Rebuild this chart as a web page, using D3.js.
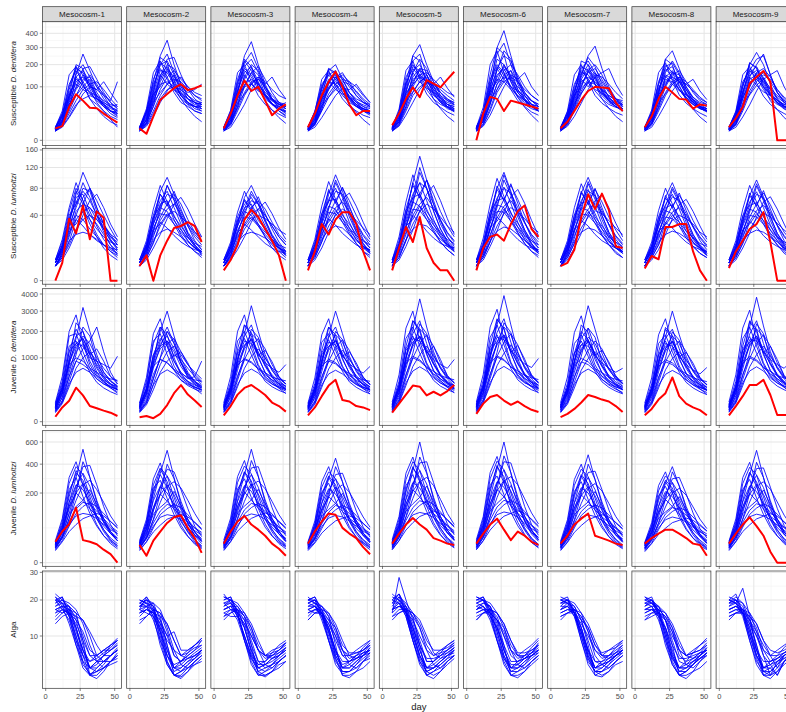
<!DOCTYPE html>
<html>
<head>
<meta charset="utf-8">
<script src="https://cdn.jsdelivr.net/npm/d3@7"></script>
<style>
  body { margin: 0; background: #fff; }
  svg { display: block; }
  text { font-family: "Liberation Sans", Arial, sans-serif; }
</style>
</head>
<body>
<svg id="chart" width="786" height="712"></svg>
<script>
// sampling days, facets, ticks
const days = [7, 12, 17, 22, 27, 32, 37, 42, 47, 52];
const mesocosms = ["Mesocosm-1", "Mesocosm-2", "Mesocosm-3", "Mesocosm-4", "Mesocosm-5",
                   "Mesocosm-6", "Mesocosm-7", "Mesocosm-8", "Mesocosm-9"];
const xTicks = [0, 25, 50];
const susDentTicks = [0, 100, 200, 300, 400];
const susLumTicks = [0, 40, 80, 120, 160];
const juvDentTicks = [0, 1000, 2000, 3000, 4000];
const juvLumTicks = [0, 200, 400, 600];
const algaTicks = [10, 20, 30];

// observed (red) series, one per mesocosm
const susDentRed = [
  [5, 7, 39, 74, 55, 37, 36, 25, 17, 11],
  [5, 1.5, 20, 57, 75, 95, 110, 88, 95, 105],
  [5, 25, 70, 125, 85, 100, 55, 22, 35, 45],
  [6, 25, 70, 120, 165, 100, 45, 22, 30, 30],
  [8, 25, 60, 98, 65, 127, 112, 98, 130, 164],
  [0, 25, 66, 60, 30, 55, 50, 45, 40, 35],
  [5, 12, 30, 57, 85, 100, 97, 95, 50, 30],
  [6, 20, 60, 100, 80, 60, 58, 35, 45, 42],
  [6, 17, 39, 113, 140, 168, 120, 0, 0, 0]
];
const susLumRed = [
  [0, 3, 36, 21, 53, 16, 45, 37, 0, 0],
  [2, 6, 0, 6, 15, 26, 28, 32, 28, 14],
  [1, 4, 12, 35, 47, 38, 25, 15, 6, 0],
  [1, 8, 30, 20, 35, 44, 44, 30, 8, 1],
  [1, 10, 27, 14, 38, 10, 3, 1, 1, 0],
  [1, 10, 18, 20, 15, 30, 45, 53, 25, 18],
  [2, 3, 9, 38, 70, 48, 71, 47, 11, 10],
  [1.4, 5.7, 4.3, 27, 27, 30, 30, 8, 1, 0],
  [1.5, 8, 15, 25, 30, 44, 14, 0, 0, 0]
];
const juvDentRed = [
  [6, 50, 108, 284, 170, 60, 44, 30, 20, 8],
  [5, 8, 3, 15, 68, 200, 330, 180, 110, 53],
  [10, 60, 180, 280, 330, 250, 175, 90, 60, 25],
  [10, 50, 160, 320, 430, 115, 100, 60, 50, 33],
  [20, 80, 180, 320, 300, 170, 220, 170, 230, 330],
  [15, 80, 150, 175, 110, 70, 100, 60, 35, 23],
  [5, 15, 40, 90, 175, 150, 120, 100, 60, 23],
  [10, 40, 120, 200, 480, 160, 80, 50, 33, 10],
  [10, 60, 160, 330, 330, 430, 175, 11, 11, 11]
];
const juvLumRed = [
  [18, 40, 61, 125, 21, 18, 14, 7, 3, 0],
  [13, 2, 20, 40, 65, 85, 93, 50, 25, 4],
  [15, 40, 70, 90, 60, 45, 30, 15, 8, 2],
  [15, 40, 70, 100, 95, 50, 35, 25, 10, 3],
  [15, 35, 60, 82, 60, 45, 25, 20, 15, 13],
  [15, 35, 60, 80, 45, 21, 40, 30, 18, 13],
  [15, 30, 60, 80, 100, 30, 25, 20, 15, 13],
  [15, 25, 35, 45, 45, 35, 25, 15, 13, 2],
  [15, 35, 60, 85, 55, 30, 5, 0, 0, 0]
];

// simulated (blue) series, values at each day, one string per run
const susDentBlue = [
  ["4 15 60 150 260 170 100 60 40 30", "5 20 90 180 160 110 70 45 30 25", "3 10 40 100 180 190 130 80 50 35",
   "6 25 110 170 120 80 55 40 30 28", "4 12 50 120 140 100 90 70 55 120", "3 9 30 70 120 150 110 70 40 25",
   "5 18 70 130 110 60 35 20 12 8", "4 14 55 160 200 140 80 50 38 32", "6 22 80 110 90 75 60 50 40 45",
   "3 8 25 55 90 110 120 90 60 40", "5 16 65 140 170 120 65 40 30 20", "4 11 45 90 130 140 100 75 50 35",
   "3 7 20 45 60 70 60 45 30 22", "5 20 100 190 150 100 60 45 35 30",
   "6 30 150 190 110 60 45 30 20 15", "3 6 18 40 75 100 90 120 80 50", "4 13 70 200 180 90 50 30 15 6",
   "5 25 70 95 150 110 60 40 25 18", "3 12 35 140 100 130 70 45 30 25", "4 9 45 70 100 80 70 55 45 40"],
  ["5 30 120 250 350 200 110 70 50 40", "6 25 100 200 220 150 90 60 45 50", "4 15 60 140 230 240 150 90 60 45",
   "5 20 80 170 160 110 70 50 40 35", "3 10 40 90 140 170 130 100 80 70", "6 28 110 180 130 90 60 45 40 45",
   "4 12 50 120 180 140 100 80 90 110", "5 22 90 200 260 160 100 60 40 30", "3 9 30 70 110 130 120 90 70 60",
   "5 18 70 150 190 130 70 45 30 25", "4 14 55 110 120 100 80 60 50 45", "6 30 130 210 180 110 70 50 40 40",
   "3 8 25 60 90 100 90 70 55 50", "4 16 65 130 200 180 110 70 50 35",
   "6 35 160 220 140 80 50 40 30 25", "3 7 20 50 85 120 140 100 70 55", "5 14 80 240 210 100 60 35 20 12",
   "4 26 75 100 170 120 70 50 40 35", "3 11 40 150 110 150 80 50 35 30", "5 10 50 80 110 90 75 60 50 45"],
  ["5 25 110 250 340 200 110 60 40 30", "4 18 80 190 230 160 90 55 40 35", "6 30 130 220 170 110 70 45 35 30",
   "3 10 40 100 160 190 130 80 50 40", "5 20 90 170 140 90 60 45 40 50", "4 14 60 130 180 150 90 60 45 40",
   "3 8 30 70 110 140 120 90 70 60", "5 22 100 210 270 180 100 60 35 25", "4 12 50 110 130 110 80 60 50 45",
   "6 26 120 180 150 100 65 45 30 20", "3 9 35 80 120 130 100 70 50 35", "5 17 70 140 200 170 100 60 45 35",
   "4 15 60 100 110 90 70 55 45 40", "5 20 85 160 190 120 70 45 35 28",
   "6 32 160 200 120 70 45 32 24 18", "3 6 20 45 90 130 110 140 90 60", "4 14 75 230 190 100 55 32 18 10",
   "5 24 72 105 160 115 70 48 30 22", "3 12 38 150 110 140 75 48 34 28", "4 10 48 75 110 85 72 58 46 40"],
  ["5 22 90 170 200 130 80 50 35 25", "4 15 60 120 150 140 100 70 50 40", "6 28 100 160 130 90 60 45 35 30",
   "3 10 40 90 130 150 120 80 55 40", "5 20 80 150 170 110 60 40 30 25", "4 12 50 100 120 100 80 60 50 45",
   "6 25 95 180 160 100 65 45 35 30", "3 8 30 65 100 120 110 85 60 45", "5 18 70 130 140 100 70 50 40 35",
   "4 14 55 110 160 130 80 55 40 30", "6 30 110 150 110 70 50 40 35 30", "3 9 35 75 110 130 120 100 70 50",
   "5 16 65 120 110 80 55 40 30 25", "4 11 45 95 140 160 110 70 50 40",
   "6 28 130 170 100 60 40 30 22 18", "3 6 18 40 70 95 90 110 75 50", "4 12 65 180 150 80 45 28 15 8",
   "5 22 60 90 140 100 60 42 30 22", "3 10 32 120 90 115 65 45 32 26", "4 9 42 65 90 75 65 52 44 38"],
  ["6 28 120 250 320 200 120 70 45 35", "5 22 100 220 260 150 90 60 45 40", "4 15 60 140 180 170 120 80 55 45",
   "6 30 140 200 150 100 70 55 45 40", "5 18 80 170 200 130 80 50 35 30", "3 10 40 100 150 160 130 100 80 70",
   "5 25 110 190 170 110 75 50 40 35", "4 12 50 110 140 120 90 70 55 50", "6 20 90 160 230 180 100 60 40 30",
   "3 9 35 80 120 140 110 80 60 45", "5 17 70 130 150 120 100 80 60 50", "4 14 55 120 170 150 100 65 45 35",
   "6 26 115 180 140 90 60 45 38 32", "3 8 30 70 100 115 105 90 70 55",
   "6 34 170 220 130 75 50 38 28 22", "3 7 22 50 90 120 110 140 95 65", "4 15 80 250 220 110 60 35 20 12",
   "5 26 78 110 180 130 75 52 38 28", "3 12 40 160 115 150 85 55 40 32", "5 11 52 82 120 95 80 64 50 44"],
  ["5 30 150 300 420 250 130 70 45 35", "6 25 120 260 330 200 110 60 40 30", "4 18 80 180 250 220 140 80 55 40",
   "5 22 100 230 200 130 80 55 40 35", "3 10 45 110 170 200 150 100 70 55", "6 28 130 200 160 100 70 50 40 35",
   "4 14 60 140 190 150 90 60 45 40", "5 20 90 170 280 230 120 70 45 30", "3 8 30 80 120 140 120 90 70 55",
   "5 16 70 150 180 120 80 55 40 30", "4 12 50 110 140 130 100 75 55 45", "6 24 110 190 150 100 65 45 35 30",
   "3 9 35 90 150 170 120 80 55 40", "5 18 75 130 120 90 70 55 45 40",
   "6 38 200 280 160 90 55 40 28 22", "3 7 22 55 100 150 130 160 100 70", "4 16 90 300 260 120 65 38 22 12",
   "5 28 85 120 200 140 80 55 40 30", "3 13 45 180 130 170 90 58 40 32", "5 12 55 90 130 100 85 68 54 46"],
  ["4 15 60 150 250 310 180 100 60 40", "5 20 80 180 220 160 100 65 45 35", "3 10 40 100 170 200 150 90 60 45",
   "5 22 90 160 150 110 75 55 45 40", "4 12 50 110 160 180 130 85 60 50", "6 25 100 190 170 110 70 50 40 35",
   "3 8 30 75 120 150 140 110 80 60", "5 18 70 140 200 150 90 60 45 35", "4 14 55 120 140 120 90 70 55 45",
   "6 28 110 170 130 85 60 45 38 35", "3 9 35 85 130 160 120 80 55 40", "5 16 65 130 180 140 85 55 40 30",
   "4 11 45 95 120 110 90 70 60 55", "5 20 85 150 240 190 110 65 45 35",
   "5 30 150 200 120 70 48 36 27 22", "3 7 20 48 90 140 160 180 110 70", "4 14 70 220 200 110 60 36 20 12",
   "5 24 70 100 170 130 80 55 40 30", "3 11 36 130 100 140 85 55 40 32", "4 10 48 78 115 90 78 62 50 44"],
  ["5 25 110 230 280 180 100 60 40 30", "4 18 80 190 210 150 90 55 40 35", "6 28 120 200 160 100 65 45 35 30",
   "3 10 40 100 150 170 120 80 55 45", "5 20 90 170 190 120 75 50 40 35", "4 14 60 120 140 120 90 65 50 45",
   "5 22 95 150 130 90 60 45 35 30", "3 8 30 70 110 130 110 85 60 50", "5 17 70 140 170 130 80 55 40 30",
   "4 12 50 110 160 150 100 65 45 35", "6 26 110 180 140 90 60 45 38 32", "3 9 35 80 120 140 120 90 65 50",
   "4 15 60 130 120 90 65 50 40 35", "5 19 80 160 220 160 90 55 40 30",
   "6 32 160 210 125 72 48 35 26 20", "3 6 20 46 85 120 110 130 85 58", "4 14 74 230 200 105 58 34 19 11",
   "5 24 72 104 165 120 72 50 36 28", "3 11 38 145 108 140 78 50 36 30", "4 10 48 76 110 86 72 58 46 40"],
  ["5 22 100 200 270 200 110 60 40 30", "4 18 80 170 230 250 150 80 50 35", "6 26 110 180 150 100 70 50 40 35",
   "3 10 40 100 160 180 140 90 60 45", "5 20 85 160 190 130 80 55 40 35", "4 14 60 130 150 130 95 70 55 45",
   "5 24 100 210 180 110 70 50 40 35", "3 8 30 75 120 150 130 90 65 50", "5 17 70 140 200 260 150 80 50 35",
   "4 12 50 110 140 120 90 65 50 45", "6 28 120 170 140 90 60 45 38 32", "3 9 35 85 130 160 120 80 55 40",
   "4 15 60 120 130 100 75 55 45 40", "5 19 80 150 170 140 90 60 42 32",
   "6 30 150 190 115 68 45 33 25 19", "3 6 19 44 85 130 150 170 100 60", "4 13 70 210 185 100 55 33 18 10",
   "5 23 68 100 160 120 72 50 36 28", "3 11 36 140 105 135 75 48 34 28", "4 9 46 72 105 82 70 56 45 39"]
];
const susLumBlue = [
  ["3 10 30 70 110 80 50 30 18 12", "2 8 25 55 75 60 40 25 15 10", "4 14 45 80 60 35 20 12 8 5",
   "2 6 18 40 65 80 60 40 25 15", "3 12 35 60 50 30 18 10 6 4", "2 7 20 45 55 50 35 25 18 14",
   "3 9 28 50 80 75 45 25 15 9", "4 11 30 40 35 25 18 12 8 6", "2 5 12 25 35 40 35 28 20 16",
   "3 10 32 65 70 45 28 16 10 7", "2 6 15 20 22 20 16 12 9 7", "3 8 22 35 45 50 40 30 20 12",
   "4 16 50 90 60 40 30 20 12 8", "2 4 10 22 40 60 70 50 30 18", "3 9 35 75 55 80 50 30 16 10",
   "2 7 25 30 45 35 25 18 14 12", "3 12 40 55 90 65 40 22 12 6", "2 5 14 35 28 20 15 12 10 9"],
  ["3 10 35 75 100 70 40 22 14 9", "2 7 22 50 70 65 45 30 20 14", "4 13 40 70 55 35 20 12 8 5",
   "2 6 18 38 55 70 55 35 22 15", "3 11 30 55 60 40 25 15 10 7", "2 8 24 45 85 60 35 20 12 8",
   "3 9 26 42 40 30 22 15 10 8", "2 5 14 28 40 45 38 30 22 18", "4 12 36 60 75 50 30 18 11 7",
   "2 6 16 22 25 22 18 14 10 8", "3 8 20 34 48 55 42 28 18 12", "3 10 30 50 45 30 18 12 8 6",
   "4 15 48 85 58 38 28 18 11 7", "2 4 10 20 36 55 65 48 30 18", "3 9 32 70 52 75 48 28 15 9",
   "2 7 24 30 42 34 24 17 13 11", "3 12 38 52 85 62 38 21 12 6", "2 5 13 32 26 19 14 11 9 8"],
  ["3 10 30 65 85 60 35 20 12 8", "2 7 20 45 60 55 40 28 18 12", "4 12 38 60 45 30 18 10 6 4",
   "2 6 16 35 50 60 48 32 20 14", "3 11 28 50 55 38 24 15 9 6", "2 8 22 40 70 55 32 18 11 7",
   "3 9 24 38 36 28 20 14 10 8", "2 5 12 25 35 40 36 30 24 20", "4 12 34 55 65 45 28 16 10 7",
   "2 6 14 20 22 20 17 13 10 8", "3 8 18 30 42 48 40 28 18 12", "3 10 28 45 40 28 18 12 8 5",
   "4 14 44 75 52 34 25 16 10 6", "2 4 9 18 32 48 58 42 26 16", "3 8 30 62 48 66 42 25 14 8",
   "2 6 22 28 38 30 22 16 12 10", "3 11 34 48 75 55 34 19 11 6", "2 5 12 30 24 18 13 10 8 7"],
  ["3 10 32 70 105 75 45 25 15 10", "2 7 22 50 75 70 50 32 20 14", "4 14 42 75 58 36 22 13 8 5",
   "2 6 18 40 60 80 60 40 25 16", "3 12 32 60 62 42 26 16 10 7", "2 8 24 48 90 65 38 22 13 8",
   "3 9 26 44 42 32 24 16 11 8", "2 5 14 28 40 48 42 34 26 20", "4 12 38 62 80 55 32 18 11 7",
   "2 6 16 24 28 26 20 15 11 9", "3 8 20 36 50 58 45 30 19 12", "3 10 30 52 48 32 20 13 8 6",
   "4 16 52 92 62 40 30 20 12 8", "2 4 10 22 42 62 72 52 32 18", "3 9 36 78 56 82 52 30 16 10",
   "2 7 26 32 46 36 26 19 15 12", "3 12 42 58 95 68 42 23 13 7", "2 5 14 36 29 21 16 12 10 9"],
  ["3 12 40 90 145 95 55 30 18 12", "2 8 26 60 90 80 55 35 22 15", "4 15 48 85 65 40 24 14 9 6",
   "2 7 20 45 70 95 70 45 28 18", "3 12 35 65 70 48 30 18 11 8", "2 9 28 55 110 80 45 25 15 10",
   "3 10 28 48 46 35 26 18 12 9", "2 5 15 30 45 55 48 38 28 22", "4 13 40 70 90 60 35 20 12 8",
   "2 6 16 25 30 28 22 16 12 10", "3 9 22 40 55 65 50 34 21 14", "3 11 32 58 52 35 22 14 9 6",
   "4 18 58 105 70 45 33 22 13 9", "2 4 11 24 46 70 85 60 36 20", "3 10 40 90 64 95 60 34 18 11",
   "2 8 28 35 52 40 29 21 16 13", "3 13 46 64 120 80 46 25 14 8", "2 5 15 40 32 23 17 13 11 10"],
  ["3 11 36 80 110 75 42 24 15 10", "2 8 24 55 80 72 50 32 20 14", "4 14 44 78 60 38 22 13 8 5",
   "2 6 18 42 62 85 62 40 25 16", "3 12 33 60 64 44 27 16 10 7", "2 8 25 50 95 68 38 22 13 8",
   "3 9 26 45 44 33 24 16 11 8", "2 5 14 28 42 50 44 36 27 22", "4 12 38 64 82 56 32 18 11 7",
   "2 6 15 23 27 25 20 15 11 9", "3 8 20 37 52 60 46 31 19 12", "3 10 31 54 50 33 21 13 8 6",
   "4 17 55 98 66 42 31 21 12 8", "2 4 11 23 44 66 78 56 34 19", "3 9 38 84 60 88 56 32 17 10",
   "2 7 27 33 48 37 27 19 15 12", "3 12 44 60 105 72 44 24 13 7", "2 5 14 38 30 22 16 12 10 9"],
  ["3 10 32 72 100 70 40 22 14 9", "2 7 22 52 75 68 46 30 19 13", "4 13 40 72 56 35 20 12 7 5",
   "2 6 17 40 58 78 58 38 24 15", "3 11 31 56 60 42 25 15 10 7", "2 8 23 46 88 62 35 20 12 8",
   "3 9 25 42 40 31 22 15 10 8", "2 5 13 26 38 46 42 34 26 20", "4 12 36 60 78 52 30 17 10 7",
   "2 6 15 22 26 24 19 14 10 8", "3 8 19 34 48 56 44 30 18 12", "3 10 29 50 46 31 19 12 8 5",
   "4 15 50 88 60 38 28 19 12 8", "2 4 10 21 40 60 70 50 31 18", "3 9 34 75 54 80 50 29 16 10",
   "2 7 25 31 44 35 25 18 14 11", "3 12 40 56 92 66 40 22 12 7", "2 5 13 34 28 20 15 12 10 8"],
  ["3 10 30 65 90 62 36 20 12 8", "2 7 20 46 66 60 42 28 18 12", "4 12 38 64 50 32 19 11 7 5",
   "2 6 16 36 52 68 52 34 21 14", "3 10 28 50 54 38 23 14 9 6", "2 7 21 42 78 56 32 18 11 7",
   "3 8 23 38 36 28 20 14 10 7", "2 5 12 24 34 40 36 30 22 18", "4 11 33 54 70 48 28 16 10 6",
   "2 6 14 20 23 21 17 13 10 8", "3 8 18 31 44 50 40 27 17 11", "3 9 27 46 42 28 17 11 7 5",
   "4 14 46 80 55 36 26 17 11 7", "2 4 9 20 36 54 62 45 28 16", "3 8 32 68 50 72 46 27 15 9",
   "2 6 23 29 40 32 23 17 13 11", "3 11 37 52 82 60 37 20 11 6", "2 5 12 32 26 19 14 11 9 8"],
  ["3 10 31 68 95 66 38 21 13 9", "2 7 21 48 70 64 44 29 19 13", "4 13 39 68 52 33 20 12 7 5",
   "2 6 17 38 55 72 54 35 22 15", "3 11 30 53 57 40 24 15 9 6", "2 8 22 44 84 60 34 19 12 8",
   "3 9 24 40 38 30 21 15 10 8", "2 5 13 25 36 43 38 31 24 19", "4 12 35 58 74 50 29 17 10 7",
   "2 6 15 21 24 22 18 14 10 8", "3 8 19 33 46 53 42 29 18 12", "3 10 28 48 44 30 18 12 8 5",
   "4 15 48 85 58 38 28 18 11 7", "2 4 10 21 38 58 66 48 30 17", "3 9 33 72 52 76 48 28 15 9",
   "2 7 24 30 42 34 24 18 14 11", "3 11 39 54 88 63 39 21 12 6", "2 5 13 33 27 19 14 11 9 8"]
];
const juvDentBlue = [
  ["40 200 800 1700 3200 2000 1100 600 400 300", "60 300 1200 2100 1600 900 550 400 300 250", "30 150 600 1300 1800 1500 1000 700 500 400",
   "80 400 1800 1900 1200 700 450 350 280 220", "50 250 900 1500 1400 1000 900 800 700 1050", "25 100 400 900 1300 1600 2200 1200 600 350",
   "70 350 1400 1600 1000 600 380 280 220 180", "40 180 700 1200 1500 1100 700 450 330 250", "20 80 300 700 1000 1200 900 600 420 300",
   "60 260 1000 1800 2000 1300 750 480 350 280", "35 140 500 900 800 650 520 420 350 300", "50 220 850 1400 1700 1200 800 550 400 320",
   "90 500 2000 2800 1500 800 500 380 300 250", "30 110 500 1100 2200 1800 900 500 350 260", "55 300 1200 1500 1700 1100 1300 900 500 350",
   "25 90 350 600 700 600 450 350 300 260", "45 200 900 2400 2000 1100 600 400 280 200", "70 260 800 1000 900 700 600 500 450 420"],
  ["50 250 1000 2000 3000 1800 1000 600 400 300", "40 180 700 1400 2000 1500 900 550 380 280", "70 350 1500 2200 1500 900 550 400 300 250",
   "30 120 450 1000 1500 1700 1200 800 550 400", "60 280 1100 1700 1400 900 600 450 500 900", "25 90 350 800 1200 1400 1100 800 600 450",
   "80 400 1600 1900 1100 650 420 320 260 220", "45 200 800 1300 1600 1200 750 500 350 280", "20 70 250 600 900 1100 950 700 500 380",
   "55 250 950 1600 2200 1500 850 520 380 300", "35 150 550 950 850 650 500 400 330 280", "50 220 850 1500 1800 1300 850 560 400 320",
   "85 480 1900 2600 1400 760 480 360 290 240", "28 100 460 1000 2000 1650 850 480 340 250", "52 280 1100 1400 1600 1050 1200 850 480 340",
   "24 85 330 560 660 560 430 340 290 250", "42 190 850 2200 1850 1000 560 380 270 190", "66 250 760 950 860 670 570 480 430 400"],
  ["45 230 900 1900 3300 2000 1100 650 420 300", "60 320 1300 2300 1800 1000 600 420 320 270", "35 160 650 1400 1900 1600 1000 650 450 350",
   "75 380 1600 2000 1300 750 470 350 280 230", "50 240 950 1600 1500 1100 850 700 600 800", "25 100 420 950 1400 1700 1300 800 500 350",
   "65 300 1200 1700 1100 650 400 300 240 200", "40 190 750 1300 1700 1200 750 480 340 260", "20 80 300 700 1050 1300 1000 700 480 350",
   "55 260 1000 1800 2300 1400 800 500 360 280", "35 140 520 950 850 680 540 430 360 310", "50 210 820 1400 1650 1150 780 540 390 310",
   "88 500 2000 2800 1500 800 500 380 300 250", "30 110 480 1050 2100 1750 880 490 345 255", "54 290 1150 1450 1650 1080 1250 880 490 345",
   "24 88 340 580 680 580 440 345 295 255", "44 195 880 2300 1950 1050 580 390 275 195", "68 255 780 980 880 690 590 490 440 410"],
  ["45 220 850 1800 3000 1900 1050 620 400 290", "60 300 1250 2200 1700 950 580 400 300 250", "35 150 620 1350 1850 1550 980 640 440 340",
   "75 360 1550 1900 1250 720 450 340 270 220", "50 230 900 1550 1450 1050 820 680 580 750", "25 95 400 900 1350 1650 1250 780 490 340",
   "65 290 1150 1650 1050 620 390 290 230 190", "40 180 720 1250 1650 1150 720 460 330 250", "20 75 290 680 1000 1250 950 680 470 340",
   "55 250 960 1750 2200 1350 780 490 350 270", "35 135 500 900 820 650 520 420 350 300", "50 200 800 1350 1600 1100 760 520 380 300",
   "84 470 1850 2600 1400 760 480 360 290 240", "28 105 460 1000 2000 1650 850 480 340 250", "52 280 1100 1400 1600 1050 1200 850 480 340",
   "23 84 330 560 650 560 430 340 290 250", "42 185 840 2200 1850 1000 560 380 270 190", "65 245 760 950 860 670 570 480 430 400"],
  ["50 260 1000 2100 3700 2200 1200 700 450 320", "65 340 1400 2500 2000 1100 650 450 340 280", "38 170 700 1500 2100 1800 1100 700 480 370",
   "80 400 1700 2200 1400 800 500 370 290 240", "55 260 1000 1700 1600 1200 950 800 700 950", "28 110 450 1000 1500 1850 1400 850 520 370",
   "70 320 1300 1800 1150 680 420 310 250 210", "42 200 800 1400 1800 1300 800 510 360 270", "22 85 320 750 1100 1400 1050 740 500 370",
   "58 270 1050 1900 2500 1500 850 530 380 290", "36 145 550 1000 900 720 560 450 370 320", "52 220 870 1480 1750 1220 820 560 400 320",
   "95 540 2150 3000 1600 850 530 400 310 260", "32 120 520 1150 2350 1900 950 530 370 270", "58 310 1250 1550 1800 1150 1400 950 520 360",
   "26 95 370 630 740 630 470 365 310 270", "48 210 950 2500 2100 1150 630 420 290 205", "72 270 830 1050 940 730 620 520 470 430"],
  ["50 270 1100 2300 3900 2300 1200 700 450 320", "65 350 1450 2600 2100 1150 680 460 340 280", "38 175 720 1550 2200 1850 1150 720 490 380",
   "80 420 1750 2300 1450 820 510 380 300 240", "55 270 1050 1750 1650 1250 980 820 720 980", "28 110 460 1050 1550 1900 1450 880 540 380",
   "70 330 1350 1850 1200 700 430 320 250 210", "42 200 820 1450 1850 1350 820 520 370 280", "22 88 330 770 1150 1450 1080 760 510 380",
   "58 280 1080 1950 2600 1550 880 540 390 300", "36 150 560 1020 920 740 580 460 380 330", "52 225 880 1500 1780 1250 830 570 410 330",
   "95 550 2200 3100 1650 870 540 400 310 260", "32 120 530 1180 2400 1950 970 540 370 270", "58 315 1270 1580 1850 1180 1420 960 520 360",
   "26 96 375 640 750 640 480 370 315 275", "48 210 960 2550 2150 1170 640 425 295 205", "72 275 840 1060 950 740 630 525 475 435"],
  ["45 220 880 1850 3300 2100 1150 680 440 310", "55 280 1150 2000 1650 950 590 420 320 260", "32 150 600 1250 1750 1500 1000 660 460 360",
   "70 360 1500 1850 1200 700 440 330 260 210", "48 220 880 1450 1400 1050 850 700 600 700", "24 95 380 850 1250 1600 1300 820 520 360",
   "62 290 1150 1600 1050 620 390 290 230 190", "38 175 700 1200 1600 1150 740 470 330 250", "20 75 280 650 980 1200 980 700 490 360",
   "52 240 920 1700 2150 1350 790 500 360 280", "34 130 490 880 800 640 510 410 340 290", "48 200 790 1320 1580 1120 760 530 390 310",
   "88 490 1950 2750 1480 790 500 375 300 250", "30 110 480 1050 2150 1750 880 490 345 255", "54 290 1150 1450 1650 1080 1250 880 490 345",
   "24 88 340 580 680 580 440 345 295 255", "44 195 880 2300 1950 1050 580 390 275 195", "68 255 780 980 880 690 590 490 440 410"],
  ["42 210 830 1750 3000 1850 1050 620 400 290", "56 290 1200 2100 1700 950 580 400 300 250", "33 150 610 1300 1800 1500 960 630 440 340",
   "72 350 1500 1850 1200 700 440 330 260 210", "48 220 870 1500 1400 1020 800 660 560 720", "24 92 390 880 1300 1600 1200 760 480 330",
   "62 280 1100 1600 1020 600 380 280 220 180", "38 175 700 1220 1600 1120 700 450 320 240", "19 72 280 660 980 1200 920 660 460 330",
   "52 240 930 1700 2100 1300 760 480 340 260", "33 130 490 880 800 640 510 410 340 290", "48 195 780 1320 1560 1080 740 510 370 290",
   "84 470 1850 2600 1400 760 480 360 290 240", "28 104 455 990 1980 1630 840 475 335 245", "52 275 1090 1380 1580 1040 1180 840 475 335",
   "23 83 325 550 645 555 425 335 285 245", "42 185 830 2180 1830 990 555 375 265 185", "64 245 750 940 850 665 565 475 425 395"],
  ["50 260 1050 2200 3800 2250 1200 700 450 320", "62 330 1400 2450 2000 1100 650 450 340 280", "36 165 690 1500 2100 1800 1100 700 480 370",
   "78 400 1700 2200 1400 800 500 370 290 240", "52 250 980 1650 1600 1200 950 800 700 900", "27 105 440 980 1500 1850 1400 850 520 370",
   "68 310 1280 1780 1150 680 420 310 250 210", "41 195 790 1400 1800 1300 800 510 360 270", "22 85 320 740 1100 1400 1050 740 500 370",
   "56 265 1030 1880 2500 1500 850 530 380 290", "35 145 550 1000 900 720 560 450 370 320", "50 215 860 1460 1720 1200 820 560 400 320",
   "95 540 2150 3050 1600 850 530 400 310 260", "32 120 520 1150 2350 1900 950 530 370 270", "58 310 1250 1550 1800 1150 1400 950 520 360",
   "26 95 370 630 740 630 470 365 310 270", "48 210 950 2500 2100 1150 630 420 290 205", "72 270 830 1050 940 730 620 520 470 430"]
];
const juvLumBlue = [
  ["12 40 150 300 530 300 150 70 35 20", "15 50 180 350 250 140 80 45 25 15", "10 30 100 220 380 390 250 130 60 30",
   "18 60 220 300 180 100 55 30 18 10", "8 25 80 160 250 280 220 150 90 55", "14 45 150 250 220 150 90 55 35 25",
   "10 28 70 120 150 140 110 80 55 40", "16 55 200 330 280 160 80 40 20 12", "7 20 55 100 130 150 130 100 70 50",
   "12 38 120 200 260 200 120 70 40 25", "9 25 60 90 100 95 80 60 45 35", "13 42 130 240 330 240 130 65 35 20",
   "20 80 300 420 250 120 60 30 15 8", "9 28 80 200 420 300 160 80 40 20", "14 50 130 200 160 220 140 80 40 20",
   "6 18 40 60 80 90 100 90 70 50", "16 70 260 380 320 180 90 45 22 12", "11 35 100 130 160 120 90 70 50 35"],
  ["12 45 170 330 520 300 140 65 30 15", "15 55 200 320 230 130 70 40 22 12", "10 30 110 240 360 340 220 120 55 28",
   "18 65 230 280 170 95 50 28 16 9", "8 24 75 150 240 270 230 160 100 60", "14 48 160 240 200 140 85 50 32 22",
   "10 26 65 110 140 130 105 75 50 38", "16 58 210 360 270 150 75 38 18 10", "7 18 50 95 120 140 125 95 65 45",
   "12 36 115 190 250 190 115 65 38 24", "9 24 55 85 95 90 76 58 42 32", "13 40 125 230 310 230 125 62 32 18",
   "20 78 290 410 240 115 58 29 14 8", "9 27 78 195 400 290 155 78 39 19", "14 48 125 195 155 210 135 78 39 19",
   "6 18 39 58 78 88 96 86 68 48", "16 68 250 370 310 175 88 44 21 11", "11 34 98 126 155 118 88 68 49 34"],
  ["12 42 160 320 530 310 150 70 34 18", "15 52 190 340 240 135 78 44 24 14", "10 30 105 230 370 380 240 125 58 30",
   "18 62 225 290 175 98 52 29 17 10", "8 24 78 155 245 275 225 155 95 58", "14 46 155 245 210 145 88 52 34 24",
   "10 27 68 115 145 135 108 78 52 39", "16 56 205 340 275 155 78 39 19 11", "7 19 52 98 125 145 128 98 68 48",
   "12 37 118 195 255 195 118 68 39 24", "9 24 58 88 98 92 78 59 44 34", "13 41 128 235 320 235 128 64 34 19",
   "21 82 305 430 255 122 61 31 15 8", "9 28 82 205 430 305 162 81 41 20", "14 50 132 205 162 222 142 81 41 20",
   "6 18 41 61 81 92 102 92 71 51", "16 71 265 385 325 182 91 46 22 12", "11 35 102 132 162 122 92 71 51 36"],
  ["12 40 145 290 450 270 135 62 30 16", "15 50 175 300 220 125 72 40 22 13", "10 28 95 200 320 330 210 110 52 27",
   "17 58 205 260 160 90 48 27 16 9", "8 22 70 140 220 250 205 140 86 52", "14 44 145 225 195 135 82 48 31 22",
   "10 25 62 105 135 125 100 72 48 36", "16 54 190 310 250 140 70 35 17 10", "7 18 48 90 115 135 120 92 64 45",
   "12 35 110 180 235 180 110 62 36 22", "9 23 54 82 92 86 72 55 41 31", "13 39 120 215 290 215 118 60 32 18",
   "18 72 270 380 225 108 54 27 14 7", "8 25 72 180 380 270 145 72 36 18", "13 45 117 180 145 198 126 72 36 18",
   "6 16 36 54 72 81 90 81 63 45", "15 63 235 340 290 162 81 40 20 11", "10 32 90 117 145 108 81 63 45 32"],
  ["13 45 170 350 600 340 165 75 36 20", "16 56 205 380 270 150 85 48 26 15", "11 32 112 250 410 420 265 135 62 32",
   "19 66 245 320 195 108 57 31 18 10", "8 26 84 170 270 300 245 165 100 60", "15 50 165 265 230 160 96 57 37 26",
   "10 29 74 125 158 148 116 84 57 42", "17 60 220 370 300 170 85 42 21 12", "7 20 57 105 135 158 140 106 74 52",
   "13 40 127 210 275 210 127 74 42 26", "9 26 62 94 104 98 84 63 47 36", "14 44 138 255 350 255 138 69 37 21",
   "22 88 330 460 275 132 66 33 16 9", "10 31 88 220 460 330 176 88 44 22", "15 55 143 220 176 242 154 88 44 22",
   "7 20 44 66 88 99 110 99 77 55", "18 77 285 420 350 198 99 50 24 13", "12 38 110 143 176 132 99 77 55 38"],
  ["13 46 175 360 600 330 160 72 34 19", "16 58 210 390 260 145 82 46 25 14", "11 33 115 255 420 410 255 130 60 31",
   "19 68 250 310 190 105 56 30 17 10", "8 26 86 175 275 305 250 168 102 62", "15 50 168 270 235 162 98 58 38 27",
   "10 29 75 128 160 150 118 85 58 43", "17 61 225 380 305 172 86 43 21 12", "7 20 58 108 138 160 142 108 75 53",
   "13 40 128 212 280 212 128 75 43 26", "9 26 63 95 106 100 85 64 48 37", "14 45 140 260 355 258 140 70 38 21",
   "22 88 335 465 278 133 67 33 17 9", "10 31 89 222 470 335 178 89 44 22", "15 55 145 222 178 245 155 89 44 22",
   "7 20 44 67 89 100 111 100 78 56", "18 78 290 425 355 200 100 50 24 13", "12 39 111 145 178 133 100 78 56 39"],
  ["12 40 148 300 480 285 140 64 31 17", "15 50 180 310 225 128 74 42 23 13", "10 28 98 210 335 345 220 115 54 28",
   "17 60 210 270 165 92 50 28 16 9", "8 22 72 145 228 258 212 145 88 54", "14 44 148 232 200 138 84 49 32 23",
   "10 26 64 108 138 128 103 74 50 37", "16 55 195 320 258 145 72 36 18 10", "7 18 50 92 118 138 123 94 65 46",
   "12 35 112 185 240 185 112 64 37 23", "9 23 55 84 94 88 74 56 42 32", "13 39 122 220 300 220 120 61 33 18",
   "19 76 285 400 238 114 57 28 14 8", "9 27 76 190 400 285 152 76 38 19", "13 48 124 190 152 209 133 76 38 19",
   "6 17 38 57 76 86 95 86 67 48", "15 67 247 360 305 171 86 43 21 11", "10 33 95 124 152 114 86 67 48 33"],
  ["11 36 130 260 380 240 120 56 28 15", "14 46 160 270 200 115 66 37 21 12", "9 26 88 185 290 300 195 102 48 25",
   "16 54 185 240 150 85 45 25 15 8", "7 20 64 128 200 228 188 128 78 48", "13 40 132 208 180 124 76 44 29 20",
   "9 24 58 98 125 116 93 67 45 34", "15 50 175 280 230 130 65 32 16 9", "6 16 45 84 108 125 112 86 60 42",
   "11 32 100 165 215 165 100 58 34 21", "8 21 50 76 86 80 68 52 39 30", "12 36 110 195 265 195 108 55 30 17",
   "17 66 245 340 205 98 49 25 12 7", "8 23 66 165 340 245 130 66 33 16", "12 41 106 165 130 180 115 66 33 16",
   "5 15 33 49 66 74 82 74 57 41", "14 57 213 310 262 148 74 37 18 10", "9 29 82 106 130 98 74 57 41 29"],
  ["12 42 158 320 520 300 148 68 33 18", "15 52 190 335 240 135 78 43 24 14", "10 30 104 228 365 370 235 122 57 29",
   "18 62 222 285 172 96 51 29 17 10", "8 24 77 152 240 270 222 152 93 57", "14 46 153 242 208 143 87 51 33 24",
   "10 27 67 113 143 133 106 77 52 38", "16 56 203 335 270 152 76 38 19 11", "7 19 52 96 123 143 127 97 67 48",
   "12 37 117 193 252 193 117 67 38 24", "9 24 57 87 97 91 77 58 43 33", "13 41 127 233 315 233 127 63 34 19",
   "19 79 298 415 248 119 59 30 15 8", "9 28 79 198 415 298 158 79 40 20", "14 49 129 198 158 218 139 79 40 20",
   "6 18 40 59 79 89 99 89 69 50", "16 69 258 376 317 178 89 45 22 12", "11 35 99 129 158 119 89 69 50 35"]
];
const algaBlue = [
  ["22 20 17 12 7 4 5 6 7 8", "18 19 16 10 5 3 4 5 6 7", "20 17 14 9 6 5 6 7 8 9",
   "16 18 18 14 8 4 4 5 5 6", "19 21 15 8 4 3 3.5 4 5 6", "17 16 17 15 10 6 5 5 6 7",
   "21 18 13 8 5 4 5 6 7 8.5", "13 15 16 15 14 11 8 6 6 7", "18 20 18 12 6 4 3.5 4 5 5.5",
   "15 17 16 13 9 6 6 7 7 8", "20 19 15 10 6 3 3 4 4.5 5", "17 18 17 11 7 5 5.5 6.5 7.5 9",
   "21 19 18 16 9 3 2.6 3.5 5 6.5", "17 18 15 12 7 4 4.5 6 8 9.5", "19 20 19 17 13 8 5 4 5 6",
   "14 16 17 16 14 10 6 5 6 7.5", "20 21 16 9 4.5 3.2 3.5 4.5 6 7", "16 17 16 14 11 7 6 7 8 9"],
  ["18 19 17 13 7 4 3.5 4.5 5.5 7", "17 21 18 11 5 3 3.5 4 5 6", "15 17 16 15 13 9 6 7 8 9.5",
   "19 18 14 9 6 4.5 5 6 7 8", "16 18 19 14 8 4 4 5 5.5 6.5", "20 19 15 8 4.5 3 3 4 4.5 5",
   "13 15 17 16 11 6 5 5.5 6 7", "18 20 18 12 6 3.5 4 5 6 7", "17 16 15 12 9 7 6 6.5 7.5 8",
   "19 20 16 10 5 3 2.8 3.5 4.5 5.5", "16 17 16 13 10 6 5 6 7 9", "18 18 17 11 6 4 4.5 5.5 6.5 7.5",
   "20 19 18 15 8 3 2.6 3.5 5 6", "17 18 15 11 7 4 5 6.5 8 9.5", "18 20 19 17 12 7 4.5 4 5 6",
   "14 15 17 16 13 9 6 5.5 6 7", "19 21 17 9 4.5 3 3.5 4.5 5.5 7", "16 17 16 14 10 11 7 7 8 9"],
  ["21 20 17 12 7 4 4.5 5.5 6.5 7.5", "18 19 16 10 5.5 3.5 4 4.5 5.5 6.5", "17 18 18 15 11 7 5.5 6 7 8.5",
   "19 17 14 9 5.5 4 4.5 5.5 6 7", "15 17 17 14 9 5 4 4.5 5 6", "20 21 16 9 5 3 3 3.5 4.5 5",
   "16 15 15 13 10 7 6 6 6.5 7.5", "19 19 17 12 6.5 4 3.5 4 5 6", "14 16 17 15 12 8 6 6.5 7 8",
   "18 20 15 10 6 3.5 3 3.5 4 5", "17 18 16 13 8 5 5 6 7 8.5", "22 19 15 10 6 4.5 4.5 5 6 7",
   "21 20 18 15 8 3.2 2.8 3.5 5 6", "17 18 15 12 7 4.5 5 6.5 8 9", "19 20 19 16 12 7 4.5 4 5 6",
   "15 16 17 16 13 9 6 5.5 6 7.5", "20 21 16 9 4.5 3 3.5 4.5 6 7", "16 17 16 14 10 7 6 7 7.5 8.5"],
  ["20 21 17 11 6 4 4.5 5.5 6.5 7", "18 18 16 12 7 4 4 5 6 7.5", "16 17 17 14 10 6 5 5.5 6.5 8",
   "19 20 15 9 5 3.5 3.5 4 5 5.5", "17 16 16 13 9 6 6 6.5 7 8", "21 19 14 9 5.5 3 3 3.5 4 5",
   "15 17 18 15 11 7 5.5 6 7 8.5", "18 19 17 12 6.5 4.5 5 6 6.5 7", "17 18 15 11 7 5 5 5.5 6 6.5",
   "19 18 16 10 5.5 3.5 3.5 4.5 5.5 6.5", "14 16 16 14 12 8 6.5 6.5 7 8", "20 20 16 11 6 4 4 5 6 7.5",
   "20 19 18 15 8 3 2.7 3.5 5 6.5", "17 18 15 12 7 4 5 6 7.5 9", "19 20 18 16 12 7 4.5 4 5 6",
   "14 16 17 16 13 9 6 5.5 6 7", "20 21 16 9 4.5 3.2 3.5 4.5 6 7", "16 17 16 13 10 7 6 7 8 9"],
  ["19 22 18 12 7 4 4.5 5.5 6.5 7.5", "17 20 17 11 6 3.5 4 5 6 7", "16 28 20 14 9 5 5 6 7 8.5",
   "20 19 15 9 5 3 3.5 4 5 6", "15 17 17 15 12 8 6 6.5 7 8", "18 21 16 10 5.5 3.5 3 3.5 4.5 5.5",
   "17 18 18 13 8 5 5 6 7 8", "21 20 15 9 5 3.5 4 5 6 7", "14 16 17 16 13 9 7 7 7.5 8.5",
   "19 19 16 11 6 4 4 4.5 5.5 6", "16 18 17 12 8 5.5 5.5 6 6.5 7.5", "20 22 17 10 6 4 4 5 6 6.5",
   "22 20 18 15 8 3 2.6 3.5 5 6", "17 19 16 12 7 4 5 6.5 8 9", "19 21 19 16 12 7 4.5 4 5 6",
   "15 16 17 16 14 10 6.5 5.5 6 7.5", "20 22 16 9 4.5 3 3.5 4.5 5.5 7", "17 18 16 14 10 7 6 7 8 9"],
  ["20 21 17 11 6 3.5 4 5 6 7", "18 19 18 13 7 4 4 5 6 7", "17 18 16 14 11 7 5.5 6 7 8",
   "21 20 15 9 5 3 3 3.5 4.5 5.5", "16 17 17 15 10 6 5 5.5 6.5 7.5", "19 18 14 9 5.5 4 4.5 5.5 6.5 8",
   "15 16 16 14 12 8 6 6 6.5 7", "20 20 16 10 5.5 3.5 3.5 4 5 6", "17 19 18 12 7 4.5 4.5 5.5 6.5 8.5",
   "18 17 15 12 8 5 5 5.5 6 6.5", "14 16 17 16 13 9 6.5 6.5 7 8", "19 20 17 11 6 4 4 4.5 5.5 6.5",
   "21 20 18 14 8 3 2.7 3.5 5 6", "17 18 15 12 7 4 5 6 7.5 9", "19 20 19 16 12 7 4.5 4 5 6",
   "14 16 17 16 13 9 6 5.5 6 7", "20 21 16 9 4.5 3 3.5 4.5 6 7", "16 17 16 14 10 7 6 7 8 9.5"],
  ["19 20 17 12 7 4 4.5 5.5 6.5 8", "18 18 16 11 6 3.5 3.5 4.5 5.5 6.5", "17 19 18 14 9 5 4.5 5 6 7",
   "20 19 15 9 5 3.5 4 5 6 7", "16 17 17 15 11 7 5.5 6 7 8", "21 20 16 10 5.5 3.5 3 3.5 4.5 5",
   "15 16 16 14 12 8 6 6 6.5 7.5", "19 19 17 12 6.5 4 4 5 6 6.5", "17 18 15 11 7 5 5 5.5 6.5 7",
   "18 20 16 10 5.5 3.5 3.5 4 5 6", "14 16 17 15 12 8 6.5 7 7.5 8.5", "20 19 16 11 6 4 4.5 5 6 7",
   "20 20 18 14 8 3 2.8 3.5 5 6", "17 18 16 12 7 4 5 6 7.5 9", "19 20 19 16 11 6 4.5 4 5 6",
   "15 16 17 16 13 9 6 5.5 6 7", "20 21 16 9 4.5 3 3.5 4.5 6 7", "16 17 16 13 10 7 6 7 8 9"],
  ["20 19 17 12 6.5 4 4 5 6 7.5", "18 20 17 10 5 3 3.5 4.5 5.5 6.5", "16 17 17 15 11 6 5 5.5 6.5 8",
   "19 18 14 9 5.5 4 4.5 5.5 6.5 7", "17 18 18 14 9 5 4.5 5 5.5 6.5", "21 20 15 8 4.5 3 3 3.5 4 5",
   "15 16 16 14 11 7 6 6.5 7 8.5", "19 19 17 11 6 3.5 3.5 4.5 5.5 6", "17 17 15 12 8 5.5 5.5 6 6.5 7",
   "18 19 16 10 5.5 3.5 4 5 6 7.5", "14 15 16 15 12 8 6 6.5 7 8", "20 20 16 11 6 4 4 4.5 5.5 6.5",
   "21 19 18 14 8 3 2.6 3.5 5 6", "17 18 15 12 7 4 5 6.5 8 9.5", "19 20 18 16 12 7 4.5 4 5 6.5",
   "14 16 17 16 13 9 6 5.5 6 7", "20 21 16 9 4.5 3 3.5 4.5 6 7", "16 17 16 14 10 7 6 7 8 9"],
  ["19 20 18 13 8 4 4.5 5.5 6.5 7.5", "18 19 24 15 7 3.5 3 4 5 6", "17 18 17 14 10 6 3 5 6 7",
   "20 19 15 9 5 3.5 4 3 5 6.5", "16 17 17 15 12 7 5 5.5 6.5 7.5", "21 20 16 10 5.5 3 3 3.5 4.5 5.5",
   "15 16 16 14 11 8 6 6 6.5 7", "19 19 17 12 6 4 4.5 5 5.5 6.5", "17 18 16 11 7 5 5 5.5 6 7",
   "18 20 17 11 6 3.5 3.5 4.5 5.5 6", "14 16 16 15 13 9 7 6.5 7 8", "20 19 16 10 6 4 4 5 6 7",
   "20 20 19 14 8 3 2.6 3.5 5 6", "17 18 16 12 7 4 5 6 7.5 9", "19 21 19 16 11 6 4.5 3 5 6",
   "15 16 17 16 13 9 6 4 6 7", "20 22 16 9 4.5 3 3.5 4.5 6 7", "16 17 16 13 10 7 6 7 8 9"]
];

// layout
const W = 786, H = 712;
const panelLeft = 42.5, panelStep = 84.2, panelW = 79;
const stripTop = 6.7, stripH = 15;
const rows = [
  { title: ["Susceptible ", "D. dentifera"], ticks: susDentTicks, ext: 500, blue: susDentBlue, red: susDentRed,
    top: 21.7, bottom: 145.5, dom: [-0.94, 491.5] },
  { title: ["Susceptible ", "D. lumholtzi"], ticks: susLumTicks, ext: 200, blue: susLumBlue, red: susLumRed,
    top: 148.3, bottom: 284.2, dom: [-0.1156, 164.1] },
  { title: ["Juvenile ", "D. dentifera"], ticks: juvDentTicks, ext: 5000, blue: juvDentBlue, red: juvDentRed,
    top: 288.7, bottom: 425.3, dom: [-3.17, 4339] },
  { title: ["Juvenile ", "D. lumholtzi"], ticks: juvLumTicks, ext: 800, blue: juvLumBlue, red: juvLumRed,
    top: 430.7, bottom: 566.3, dom: [-0.53, 717.7] },
  { title: ["Alga", ""], ticks: algaTicks, ext: 40, blue: algaBlue, red: null,
    top: 571, bottom: 688.3, dom: [1.588, 30.54] }
];

const svg = d3.select("#chart");
svg.append("rect").attr("width", W).attr("height", H).attr("fill", "#fff");

const x = d3.scaleLinear().domain([-2.32, 54.93]).range([0, panelW]);
const defs = svg.append("defs");

rows.forEach((row, r) => {
  const y = d3.scaleSqrt().domain(row.dom).range([row.bottom, row.top]);
  // major breaks (incl. 0 and one beyond) for the minor grid midpoints
  const majors = r === 4 ? [0, 10, 20, 30, 40] : d3.range(0, row.ext + 1, row.ticks[1] - row.ticks[0]);
  const minors = [];
  for (let i = 0; i < majors.length - 1; i++) {
    const m = Math.pow((Math.sqrt(majors[i]) + Math.sqrt(majors[i + 1])) / 2, 2);
    if (y(m) > row.top && y(m) < row.bottom) minors.push(m);
  }

  const line = d3.line()
    .x((d, i) => x(days[i]))
    .y(d => y(d));

  // y axis labels + ticks (left side only)
  const yAxis = svg.append("g");
  row.ticks.forEach(t => {
    yAxis.append("text")
      .attr("x", 38).attr("y", y(t))
      .attr("text-anchor", "end").attr("dominant-baseline", "central")
      .attr("font-size", "7.5px").attr("fill", "#4D4D4D")
      .text(t);
    yAxis.append("line")
      .attr("x1", 39.8).attr("x2", panelLeft).attr("y1", y(t)).attr("y2", y(t))
      .attr("stroke", "#333").attr("stroke-width", 0.6);
  });

  // row title
  const cy = (row.top + row.bottom) / 2;
  const title = svg.append("text")
    .attr("transform", `translate(15.5,${cy}) rotate(-90)`)
    .attr("text-anchor", "middle").attr("font-size", "8px").attr("fill", "#1a1a1a");
  title.append("tspan").text(row.title[0]);
  if (row.title[1]) title.append("tspan").attr("font-style", "italic").text(row.title[1]);

  mesocosms.forEach((name, c) => {
    const px = panelLeft + c * panelStep;
    const clipId = `clip-${r}-${c}`;
    defs.append("clipPath").attr("id", clipId)
      .append("rect").attr("x", 0).attr("y", row.top).attr("width", panelW).attr("height", row.bottom - row.top);

    const g = svg.append("g").attr("transform", `translate(${px},0)`);
    g.append("rect").attr("x", 0).attr("y", row.top).attr("width", panelW).attr("height", row.bottom - row.top)
      .attr("fill", "#fff");

    // grid
    const grid = g.append("g");
    minors.forEach(m => grid.append("line").attr("x1", 0).attr("x2", panelW).attr("y1", y(m)).attr("y2", y(m))
      .attr("stroke", "#F2F2F2").attr("stroke-width", 0.6));
    [12.5, 37.5].forEach(v => grid.append("line").attr("x1", x(v)).attr("x2", x(v)).attr("y1", row.top).attr("y2", row.bottom)
      .attr("stroke", "#F2F2F2").attr("stroke-width", 0.6));
    row.ticks.forEach(t => grid.append("line").attr("x1", 0).attr("x2", panelW).attr("y1", y(t)).attr("y2", y(t))
      .attr("stroke", "#E5E5E5").attr("stroke-width", 1));
    xTicks.forEach(v => grid.append("line").attr("x1", x(v)).attr("x2", x(v)).attr("y1", row.top).attr("y2", row.bottom)
      .attr("stroke", "#E5E5E5").attr("stroke-width", 1));

    const lines = g.append("g").attr("clip-path", `url(#${clipId})`);
    lines.selectAll("path.sim")
      .data(row.blue[c].map(s => s.split(" ").map(Number)))
      .join("path").attr("class", "sim")
      .attr("d", line)
      .attr("fill", "none").attr("stroke", "#0000FF").attr("stroke-width", 0.85);
    if (row.red) {
      lines.append("path")
        .attr("d", line(row.red[c]))
        .attr("fill", "none").attr("stroke", "#FF0000").attr("stroke-width", 2)
        .attr("stroke-linejoin", "round");
    }

    g.append("rect").attr("x", 0).attr("y", row.top).attr("width", panelW).attr("height", row.bottom - row.top)
      .attr("fill", "none").attr("stroke", "#333").attr("stroke-width", 0.7);

    // x ticks below every panel
    xTicks.forEach(v => g.append("line").attr("x1", x(v)).attr("x2", x(v))
      .attr("y1", row.bottom).attr("y2", row.bottom + 2.7).attr("stroke", "#333").attr("stroke-width", 0.6));

    if (r === 0) {
      g.append("rect").attr("x", 0).attr("y", stripTop).attr("width", panelW).attr("height", stripH)
        .attr("fill", "#D9D9D9").attr("stroke", "#333").attr("stroke-width", 0.7);
      g.append("text").attr("x", panelW / 2).attr("y", stripTop + stripH / 2)
        .attr("text-anchor", "middle").attr("dominant-baseline", "central")
        .attr("font-size", "8px").attr("fill", "#1a1a1a").text(name);
    }
    if (r === rows.length - 1) {
      xTicks.forEach(v => g.append("text").attr("x", x(v)).attr("y", row.bottom + 11)
        .attr("text-anchor", "middle").attr("font-size", "7.5px").attr("fill", "#4D4D4D").text(v));
    }
  });
});

svg.append("text").attr("x", panelLeft + (9 * panelStep - 5.2) / 2).attr("y", 709.5)
  .attr("text-anchor", "middle").attr("font-size", "9.5px").attr("fill", "#1a1a1a").text("day");
</script>
</body>
</html>
